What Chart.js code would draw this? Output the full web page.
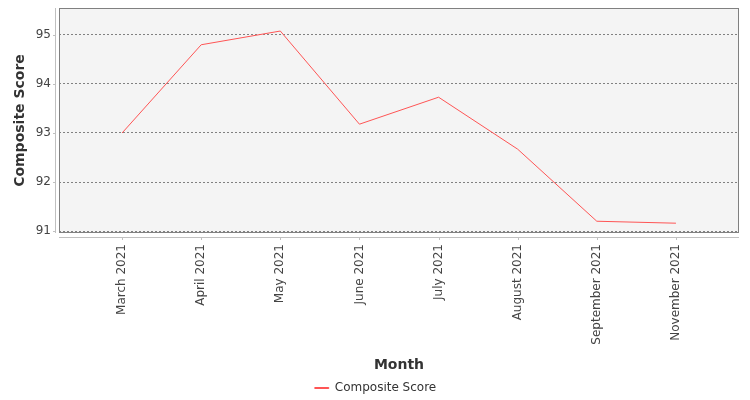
<!DOCTYPE html>
<html>
<head>
<meta charset="utf-8">
<script src="https://cdn.jsdelivr.net/npm/chart.js@4"></script>
<style>
  html, body { margin: 0; padding: 0; background: #fff; }
  #wrap { width: 750px; height: 400px; }
</style>
</head>
<body>
<div id="wrap"><canvas id="chart" width="750" height="400"></canvas></div>
<script>
// data
const months = ['March 2021', 'April 2021', 'May 2021', 'June 2021',
                'July 2021', 'August 2021', 'September 2021', 'November 2021'];
const scores = [93.0, 94.8, 95.08, 93.18, 93.73, 92.67, 91.2, 91.16];
const yTicks = [91, 92, 93, 94, 95];

const FONT = 'DejaVu Sans';

// plot background, border and the offset axis lines (JFreeChart look)
const plotFrame = {
    id: 'plotFrame',
    beforeDraw(chart) {
        const { ctx, chartArea: a } = chart;
        ctx.save();
        ctx.fillStyle = '#f4f4f4';
        ctx.fillRect(a.left, a.top, a.right - a.left, a.bottom - a.top);
        ctx.restore();
    },
    afterDatasetsDraw(chart) {
        const { ctx, chartArea: a, scales } = chart;
        ctx.save();
        ctx.strokeStyle = '#808080';
        ctx.lineWidth = 1;
        ctx.strokeRect(a.left + 0.5, a.top + 0.5, a.right - a.left - 1, a.bottom - a.top - 1);

        ctx.strokeStyle = '#c0c0c0';
        ctx.beginPath();
        // y axis line
        ctx.moveTo(a.left - 3.5, a.top);
        ctx.lineTo(a.left - 3.5, a.bottom);
        yTicks.forEach(v => {
            const y = Math.round(scales.y.getPixelForValue(v)) + 0.5;
            ctx.moveTo(a.left - 3.5, y);
            ctx.lineTo(a.left - 6, y);
        });
        // x axis line
        ctx.moveTo(a.left, a.bottom + 4.5);
        ctx.lineTo(a.right, a.bottom + 4.5);
        months.forEach((m, i) => {
            const x = Math.round(scales.x.getPixelForValue(i)) + 0.5;
            ctx.moveTo(x, a.bottom + 4.5);
            ctx.lineTo(x, a.bottom + 7);
        });
        ctx.stroke();
        ctx.restore();
    }
};

new Chart(document.getElementById('chart'), {
    type: 'line',
    data: {
        datasets: [{
            label: 'Composite Score',
            data: scores.map((v, i) => ({ x: i, y: v })),
            borderColor: '#ff5555',
            backgroundColor: '#ff5555',
            borderWidth: 1,
            pointRadius: 0,
            fill: false,
            tension: 0
        }]
    },
    options: {
        responsive: false,
        animation: false,
        layout: { padding: { left: 12, top: 8, right: 11, bottom: -4 } },
        plugins: {
            legend: {
                position: 'bottom',
                labels: {
                    font: { family: FONT, size: 12 },
                    color: '#333',
                    boxWidth: 14,
                    boxHeight: 1,
                    padding: 0
                }
            },
            tooltip: { enabled: false }
        },
        scales: {
            x: {
                type: 'linear',
                min: -0.797,
                max: 7.797,
                afterBuildTicks(scale) {
                    scale.ticks = months.map((m, i) => ({ value: i }));
                },
                afterFit(scale) {
                    scale.height = 149;
                    scale.paddingLeft = 0;
                    scale.paddingRight = 0;
                },
                grid: { display: false, drawTicks: false },
                border: { display: false },
                ticks: {
                    minRotation: 90,
                    maxRotation: 90,
                    padding: 11,
                    autoSkip: false,
                    font: { family: FONT, size: 12 },
                    color: '#444',
                    callback: v => months[v]
                },
                title: {
                    display: true,
                    text: 'Month',
                    font: { family: FONT, size: 14, weight: 'bold' },
                    color: '#333',
                    padding: { top: 4, bottom: 8 }
                }
            },
            y: {
                min: 90.96,
                max: 95.55,
                afterBuildTicks(scale) {
                    scale.ticks = yTicks.map(v => ({ value: v }));
                },
                afterFit(scale) {
                    scale.width = 47;
                    scale.paddingTop = 0;
                    scale.paddingBottom = 0;
                },
                grid: {
                    color: '#808080',
                    lineWidth: 1,
                    drawTicks: false
                },
                border: { display: false, dash: [2, 2] },
                ticks: {
                    padding: 8,
                    font: { family: FONT, size: 12 },
                    color: '#444',
                    callback: v => String(v)
                },
                title: {
                    display: true,
                    text: 'Composite Score',
                    font: { family: FONT, size: 14, weight: 'bold' },
                    color: '#333',
                    padding: { top: 0, bottom: 2 }
                }
            }
        }
    },
    plugins: [plotFrame]
});
</script>
</body>
</html>
